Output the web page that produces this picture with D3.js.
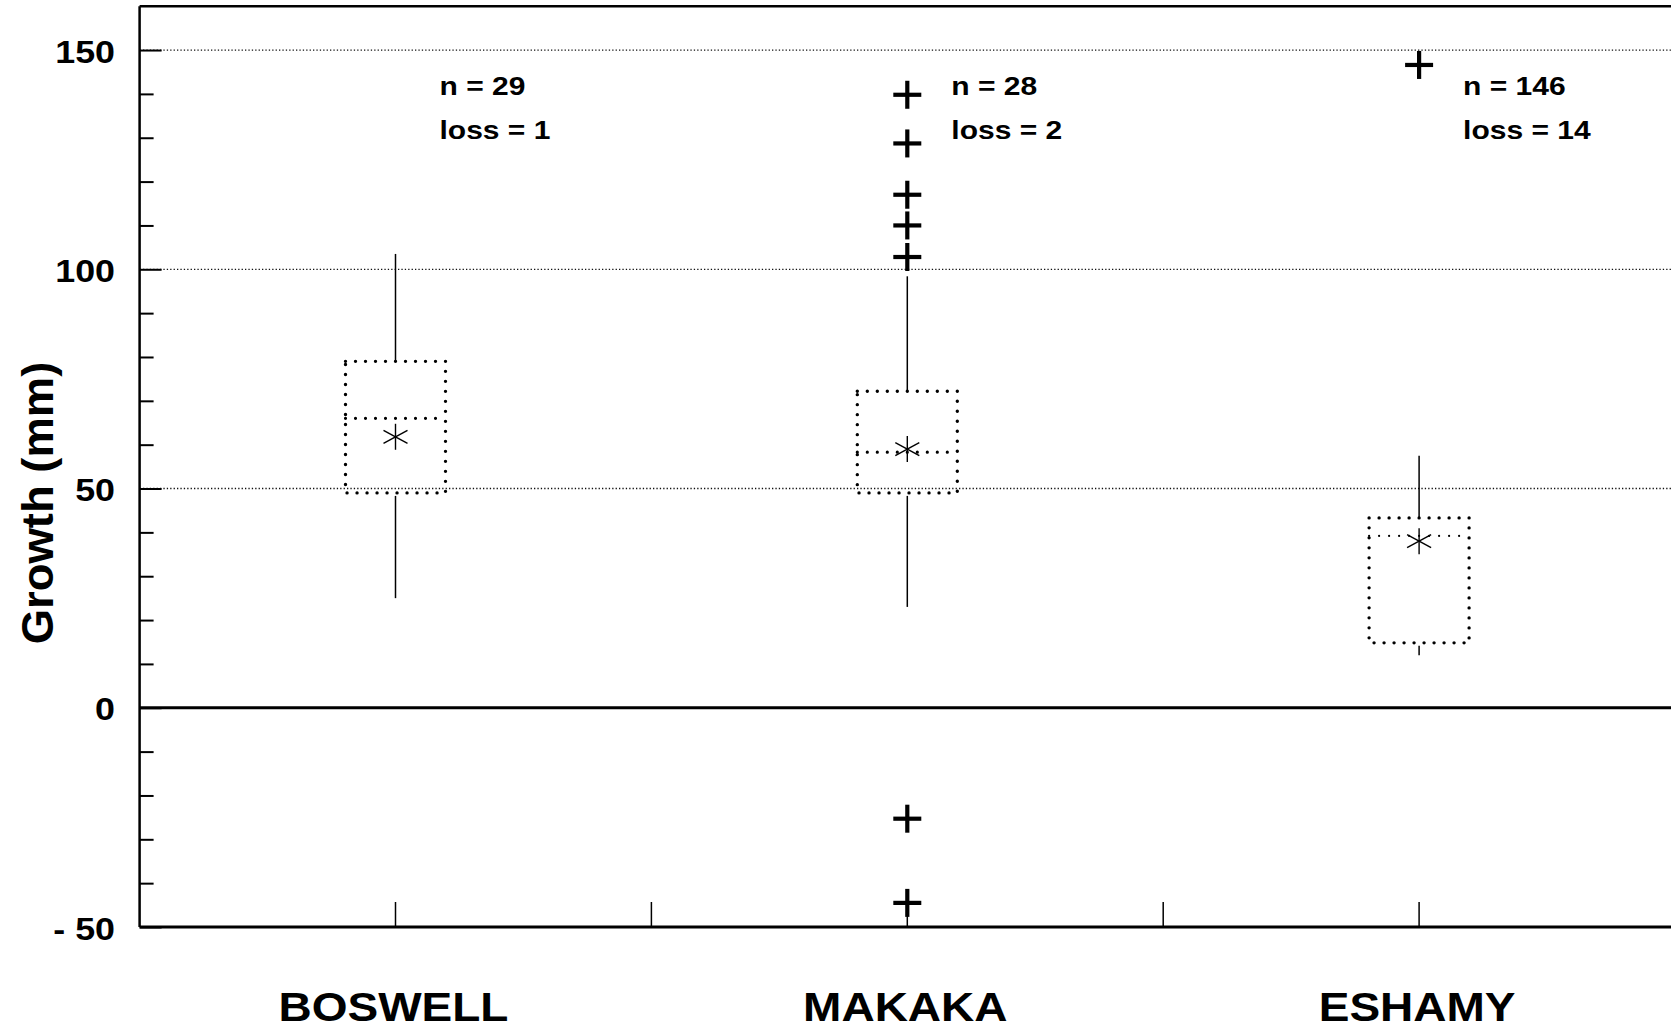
<!DOCTYPE html>
<html>
<head>
<meta charset="utf-8">
<script src="https://cdn.jsdelivr.net/npm/d3@7"></script>
<style>
  html, body { margin: 0; padding: 0; background: #fff; }
  svg { display: block; }
  text { font-family: "Liberation Sans", Arial, Helvetica, sans-serif; font-weight: bold; fill: #000; }
</style>
</head>
<body>
<script>
// ---- data ----
const categories   = ["BOSWELL", "MAKAKA", "ESHAMY"];
const whiskerLow   = [25, 23, 12];
const q1           = [49, 49, 14.8];
const median       = [66, 58.3, 39.2];
const q3           = [79, 72.2, 43.3];
const whiskerHigh  = [103.5, 98.4, 57.5];
const means        = [61.8, 59, 38];
const outliers     = [[], [139.8, 128.7, 117, 110, 102.8, -25.3, -44.5], [146.6]];
const nCounts      = [29, 28, 146];
const losses       = [1, 2, 14];
const majorTicks   = [-50, 0, 50, 100, 150];
const majorLabels  = ["- 50", "0", "50", "100", "150"];
const minorTicks   = [-40, -30, -20, -10, 10, 20, 30, 40, 60, 70, 80, 90, 110, 120, 130, 140];
const gridValues   = [50, 100, 150];
const xTickValues  = [1, 1.5, 2, 2.5, 3];
const yTitle       = "Growth (mm)";

// ---- layout ----
const W = 1671, H = 1029;
const svg = d3.select("body").append("svg").attr("width", W).attr("height", H);

const x = d3.scaleLinear().domain([0.5, 3.5]).range([139.6, 1675]);
const y = d3.scaleLinear().domain([-50, 160]).range([927, 6.2]);

const left = x(0.5), right = W + 5;

function sText(g, px, py, str, size, sx, anchor, rot) {
  return g.append("text")
    .attr("transform", `translate(${px},${py})` + (rot ? ` rotate(${rot})` : "") + ` scale(${sx},1)`)
    .attr("text-anchor", anchor)
    .style("font-size", size + "px")
    .text(str);
}

// grid lines (dotted)
svg.append("g").selectAll("line").data(gridValues).join("line")
  .attr("x1", left).attr("x2", right)
  .attr("y1", d => y(d)).attr("y2", d => y(d))
  .attr("stroke", "#111").attr("stroke-width", 1.3)
  .attr("stroke-dasharray", "1.3 2.1");

// left axis: minor and major ticks (drawn inward)
const axisMinor = d3.axisLeft(y).tickValues(minorTicks).tickSizeInner(-14).tickSizeOuter(0).tickFormat("");
const axisMajor = d3.axisLeft(y).tickValues(majorTicks).tickSizeInner(-22).tickSizeOuter(0).tickFormat("");
const gMinor = svg.append("g").attr("transform", `translate(${left},0)`).call(axisMinor);
const gMajor = svg.append("g").attr("transform", `translate(${left},0)`).call(axisMajor);
[gMinor, gMajor].forEach(g => {
  g.select(".domain").remove();
  g.selectAll(".tick line").attr("stroke", "#000").attr("stroke-width", 2);
});

// tick labels
majorTicks.forEach((v, i) => {
  sText(svg, 115, y(v) + 12.5, majorLabels[i], 32, 1.12, "end");
});

// frame: left axis, top border, zero line, bottom axis
svg.append("line").attr("x1", left).attr("x2", left).attr("y1", y(160)).attr("y2", y(-50))
  .attr("stroke", "#000").attr("stroke-width", 2.5);
svg.append("line").attr("x1", left).attr("x2", right).attr("y1", y(160)).attr("y2", y(160))
  .attr("stroke", "#000").attr("stroke-width", 2.5);
svg.append("line").attr("x1", left).attr("x2", right).attr("y1", y(0)).attr("y2", y(0))
  .attr("stroke", "#000").attr("stroke-width", 3);
svg.append("line").attr("x1", left).attr("x2", right).attr("y1", y(-50)).attr("y2", y(-50))
  .attr("stroke", "#000").attr("stroke-width", 3);

// x ticks (upward from bottom axis)
svg.append("g").selectAll("line").data(xTickValues).join("line")
  .attr("x1", d => x(d)).attr("x2", d => x(d))
  .attr("y1", y(-50)).attr("y2", y(-50) - 25)
  .attr("stroke", "#000").attr("stroke-width", 1.5);

// boxes
const boxHalf = 50;
const dotted = g => g.attr("fill", "none").attr("stroke", "#000")
  .attr("stroke-width", 3.4).attr("stroke-linecap", "round").attr("stroke-dasharray", "0 10");

categories.forEach((c, i) => {
  const cx = x(i + 1);
  const g = svg.append("g");
  // whiskers
  g.append("line").attr("x1", cx).attr("x2", cx).attr("y1", y(q3[i])).attr("y2", y(whiskerHigh[i]))
    .attr("stroke", "#000").attr("stroke-width", 1.5);
  g.append("line").attr("x1", cx).attr("x2", cx).attr("y1", y(q1[i]) + 3).attr("y2", y(whiskerLow[i]))
    .attr("stroke", "#000").attr("stroke-width", 1.5);
  // box
  g.append("rect")
    .attr("x", cx - boxHalf).attr("y", y(q3[i]))
    .attr("width", boxHalf * 2).attr("height", y(q1[i]) - y(q3[i]))
    .call(dotted);
  // median
  g.append("line").attr("x1", cx - boxHalf).attr("x2", cx + boxHalf)
    .attr("y1", y(median[i])).attr("y2", y(median[i]))
    .call(dotted).attr("stroke-width", i === 2 ? 2.2 : 3.2);
  // mean asterisk
  const my = y(means[i]);
  const star = [[0, -13, 0, 13], [-12, -6.5, 12, 6.5], [-12, 6.5, 12, -6.5]];
  g.selectAll("line.star").data(star).join("line").attr("class", "star")
    .attr("x1", d => cx + d[0]).attr("y1", d => my + d[1])
    .attr("x2", d => cx + d[2]).attr("y2", d => my + d[3])
    .attr("stroke", "#000").attr("stroke-width", 1.4);
  // outliers
  outliers[i].forEach(v => {
    const oy = y(v);
    g.append("line").attr("x1", cx - 14).attr("x2", cx + 14).attr("y1", oy).attr("y2", oy)
      .attr("stroke", "#000").attr("stroke-width", 4.2);
    g.append("line").attr("x1", cx).attr("x2", cx).attr("y1", oy - 14).attr("y2", oy + 14)
      .attr("stroke", "#000").attr("stroke-width", 4.2);
  });
  // annotations
  sText(svg, cx + 44, 95, "n = " + nCounts[i], 25, 1.2, "start");
  sText(svg, cx + 44, 139, "loss = " + losses[i], 25, 1.2, "start");
  // category label
  sText(svg, cx - 2, 1021, c, 40, 1.15, "middle");
});

// y-axis title
sText(svg, 53, 503, yTitle, 45, 1.01, "middle", -90);
</script>
</body>
</html>
